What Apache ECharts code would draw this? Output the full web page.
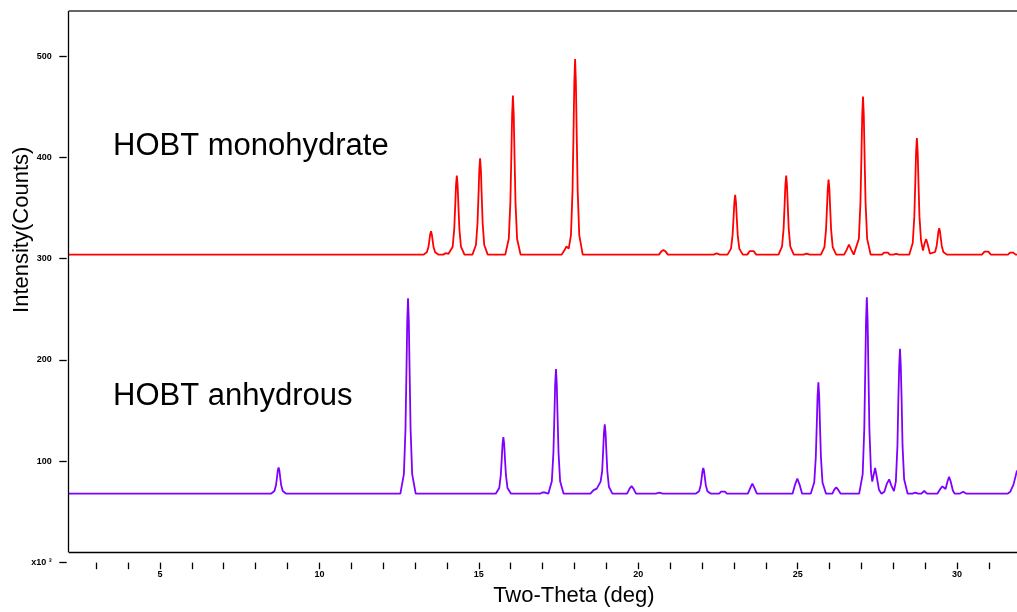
<!DOCTYPE html>
<html>
<head>
<meta charset="utf-8">
<script src="https://cdn.jsdelivr.net/npm/echarts@6/dist/echarts.min.js"></script>
<style>
html,body{margin:0;padding:0;background:#fff;}
#chart{width:1017px;height:612px;}
</style>
</head>
<body>
<div id="chart"></div>
<script>
// ---- data ----
const xTickValues = [3,4,5,6,7,8,9,10,11,12,13,14,15,16,17,18,19,20,21,22,23,24,25,26,27,28,29,30,31];
const xLabelValues = [5,10,15,20,25,30];
const yTickValues = [0,100,200,300,400,500];
const seriesNames = ['HOBT monohydrate','HOBT anhydrous'];

const monohydrate = [
[2.14,304],
[13.26,304],[13.37,306.3],[13.42,311.6],[13.45,318.3],[13.475,324.2],[13.50,327],[13.525,324.2],[13.55,318.3],[13.58,311.6],[13.63,306.3],[13.74,304],
[13.88,304],[13.97,305.5],[14.05,304.8],
[14.18,311.8],[14.23,329.7],[14.26,352.4],[14.285,372.6],[14.31,382],[14.335,372.6],[14.36,352.4],[14.39,329.7],[14.44,311.8],[14.55,304],
[14.80,304],[14.91,313.5],[14.96,335.4],[14.99,362.9],[15.015,387.6],[15.04,399],[15.065,387.6],[15.09,362.9],[15.12,335.4],[15.17,313.5],[15.28,304],
[15.83,304],[15.94,319.7],[15.99,355.8],[16.02,401.3],[16.045,442.2],[16.07,461],[16.095,442.2],[16.12,401.3],[16.15,355.8],[16.20,319.7],[16.31,304],
[17.60,304],[17.68,308],[17.75,312],[17.82,310],[17.89,323.3],[17.94,367.7],[17.97,423.7],[17.995,473.8],[18.02,497],[18.045,473.8],[18.07,423.7],[18.10,367.7],[18.15,323.3],[18.26,304],
[20.65,304],[20.72,307],[20.79,308.6],[20.86,307],[20.93,304],
[22.36,304],[22.46,305.2],[22.56,304],
[22.80,304],[22.91,309.9],[22.96,323.5],[22.99,340.6],[23.015,355.9],[23.04,363],[23.065,355.9],[23.09,340.6],[23.12,323.5],[23.17,309.9],[23.28,304],
[23.42,304],[23.50,307.5],[23.56,309],[23.62,307.5],[23.70,304],
[24.40,304],[24.51,311.8],[24.56,329.7],[24.59,352.4],[24.615,372.6],[24.64,382],[24.665,372.6],[24.69,352.4],[24.72,329.7],[24.77,311.8],[24.88,304],
[25.18,304],[25.28,305],[25.38,304],
[25.73,304],[25.84,311.4],[25.89,328.4],[25.92,349.9],[25.945,369.1],[25.97,378],[25.995,369.1],[26.02,349.9],[26.05,328.4],[26.10,311.4],[26.21,304],
[26.46,304],[26.54,309],[26.61,314],[26.68,309],[26.76,304],
[26.81,304],[26.92,319.6],[26.97,355.5],[27.00,400.7],[27.025,441.3],[27.05,460],[27.075,441.3],[27.10,400.7],[27.13,355.5],[27.18,319.6],[27.29,304],
[27.65,304],[27.71,306],[27.77,307.3],[27.83,306],[27.89,304],
[28.00,304],[28.09,304.8],[28.18,304],
[28.50,304],[28.61,315.5],[28.66,342],[28.69,375.3],[28.715,405.2],[28.74,419],[28.765,405.2],[28.79,375.3],[28.82,342],[28.87,318],[28.93,308],[28.98,315],[29.03,319.4],[29.08,314],[29.15,305],
[29.20,304],[29.31,306.6],[29.36,312.6],[29.39,320.1],[29.415,326.9],[29.44,330],[29.465,326.9],[29.49,320.1],[29.52,312.6],[29.57,306.6],[29.68,304],
[30.78,304],[30.86,307],[30.92,308.6],[30.98,307],[31.06,304],
[31.60,304],[31.66,306],[31.71,307],[31.76,306],[31.84,304],[31.88,304]
];

const anhydrous = [
[2.14,68],
[8.48,68],[8.59,70.6],[8.64,76.6],[8.67,84.1],[8.695,90.9],[8.72,94],[8.745,90.9],[8.77,84.1],[8.80,76.6],[8.85,70.6],[8.96,68],
[12.54,68],[12.65,87.3],[12.70,131.7],[12.73,187.7],[12.755,237.8],[12.78,261],[12.805,237.8],[12.83,187.7],[12.86,131.7],[12.91,87.3],[13.02,68],
[15.53,68],[15.64,73.6],[15.69,86.5],[15.72,102.7],[15.745,117.3],[15.77,124],[15.795,117.3],[15.82,102.7],[15.85,86.5],[15.90,73.6],[16.01,68],
[16.92,68],[16.99,69.2],[17.06,69.4],[17.12,68.6],
[17.18,68],[17.29,80.3],[17.34,108.6],[17.37,144.3],[17.395,176.2],[17.42,191],[17.445,176.2],[17.47,144.3],[17.50,108.6],[17.55,80.3],[17.66,68],
[18.50,68],[18.60,71.5],[18.70,73],[18.76,74],[18.82,80],[18.87,90.6],[18.90,110.5],[18.925,128.3],[18.95,136.5],[18.975,128.3],[19.00,110.5],[19.03,90.6],[19.08,74.9],[19.19,68],
[19.65,68],[19.73,73],[19.79,75.6],[19.85,73],[19.93,68],
[20.55,68],[20.66,69],[20.77,68],
[21.80,68],[21.91,70.5],[21.96,76.4],[21.99,83.7],[22.015,90.4],[22.04,93.4],[22.065,90.4],[22.09,83.7],[22.12,76.4],[22.17,70.5],[22.28,68],
[22.54,68],[22.60,70],[22.66,71],[22.72,70],[22.78,68],
[23.44,68],[23.52,74],[23.58,78],[23.64,74],[23.72,68],
[24.84,68],[24.92,77],[24.99,83],[25.06,77],[25.14,68],
[25.41,68],[25.52,79],[25.57,104.3],[25.60,136.2],[25.625,164.8],[25.65,178],[25.675,164.8],[25.70,136.2],[25.73,104.3],[25.78,79],[25.89,68],
[26.09,68],[26.15,72],[26.21,74.3],[26.27,72],[26.35,68],
[26.93,68],[27.04,87.4],[27.09,132],[27.12,188.3],[27.145,238.7],[27.17,262],[27.195,238.7],[27.22,188.3],[27.25,132],[27.30,90],[27.34,80],[27.38,86],[27.43,93.4],[27.48,85],[27.55,72],[27.63,68],
[27.72,70],[27.80,78],[27.87,82.2],[27.94,76],[28.02,70.5],[28.08,80],[28.13,115.2],[28.16,162.7],[28.185,193.8],[28.21,211],[28.235,193.8],[28.26,162.7],[28.29,115.2],[28.34,82.3],[28.45,68],
[28.60,68],[28.69,69],[28.78,68],
[28.88,68],[28.97,70.7],[29.06,68],
[29.38,68],[29.46,72],[29.54,75.3],[29.64,72.6],[29.70,80],[29.75,84.8],[29.80,80],[29.87,71],[29.93,68],
[30.08,68],[30.19,70],[30.30,68],
[31.58,68],[31.67,70],[31.77,77],[31.88,91]
];

// axis ranges
const X_MIN = 2.137, X_MAX = 31.88;
const Y_MIN = 0, Y_MAX = 544.5;
const FRAME_BOTTOM = 10.3;

const FONT = '"Liberation Sans", Arial, Helvetica, sans-serif';
const chart = echarts.init(document.getElementById('chart'), null, {renderer: 'canvas'});

const option = {
  animation: false,
  backgroundColor: '#ffffff',
  grid: {left: 68.7, right: 0, top: 11, bottom: 49.4, containLabel: false, outerBoundsMode: 'none'},
  xAxis: {
    type: 'value', min: X_MIN, max: X_MAX,
    name: 'Two-Theta (deg)', nameLocation: 'middle', nameGap: 22,
    nameTextStyle: {fontFamily: FONT, fontSize: 22, color: '#000', padding: [0,0,0,62]},
    axisLine: {show: false},
    axisTick: {show: true, customValues: xTickValues, length: 6.6, inside: false, lineStyle: {color: '#000', width: 1.3}},
    axisLabel: {show: true, customValues: xLabelValues, margin: 7, fontFamily: FONT, fontSize: 9, fontWeight: 'bold', color: '#000'},
    splitLine: {show: false}
  },
  yAxis: {
    type: 'value', min: Y_MIN, max: Y_MAX, offset: 2,
    name: 'Intensity(Counts)', nameLocation: 'middle', nameGap: 34, nameRotate: 90, nameMoveOverlap: false,
    nameTextStyle: {fontFamily: FONT, fontSize: 22, color: '#000', padding: [0,0,0,114]},
    axisLine: {show: false},
    axisTick: {show: true, customValues: yTickValues, length: 7.4, lineStyle: {color: '#000', width: 1.3}},
    axisLabel: {
      show: true, customValues: yTickValues, margin: 15,
      fontFamily: FONT, fontSize: 9, fontWeight: 'bold', color: '#000',
      formatter: function (v) { return v === 0 ? 'x10 \u00B3' : String(v); }
    },
    splitLine: {show: false}
  },
  graphic: [
    {type: 'text', left: 113, top: 131, style: {text: 'HOBT monohydrate', font: '31px ' + FONT, fill: '#000'}},
    {type: 'text', left: 113, top: 381, style: {text: 'HOBT anhydrous', font: '31px ' + FONT, fill: '#000'}}
  ],
  series: [
    {
      name: seriesNames[0], type: 'line', data: monohydrate, showSymbol: false, smooth: false,
      lineStyle: {color: '#ff0000', width: 1.8}, itemStyle: {color: '#ff0000'}, clip: true,
      markLine: {
        silent: true, symbol: 'none', label: {show: false}, animation: false,
        data: [
          [{coord: [X_MIN, FRAME_BOTTOM], lineStyle: {color: '#000', width: 1.3, type: 'solid'}}, {coord: [X_MAX, FRAME_BOTTOM]}],
          [{coord: [X_MIN, FRAME_BOTTOM], lineStyle: {color: '#000', width: 1.3, type: 'solid'}}, {coord: [X_MIN, Y_MAX]}],
          [{coord: [X_MIN, Y_MAX], lineStyle: {color: '#333', width: 1.6, type: 'solid'}}, {coord: [X_MAX, Y_MAX]}]
        ]
      }
    },
    {
      name: seriesNames[1], type: 'line', data: anhydrous, showSymbol: false, smooth: false,
      lineStyle: {color: '#8000ff', width: 1.8}, itemStyle: {color: '#8000ff'}, clip: true
    }
  ]
};
chart.setOption(option);
</script>
</body>
</html>
